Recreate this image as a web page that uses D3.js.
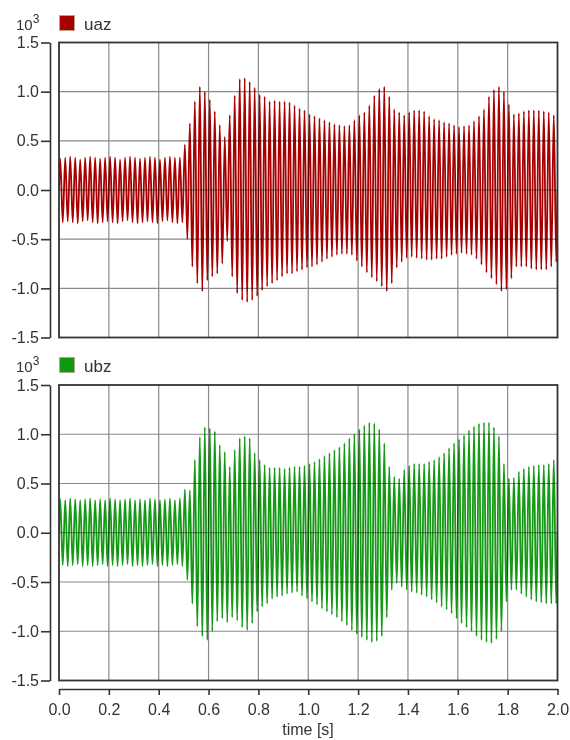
<!DOCTYPE html>
<html><head><meta charset="utf-8">
<script src="https://cdn.jsdelivr.net/npm/d3@7"></script>
<style>
body{margin:0;background:#fff}
text{font-family:"Liberation Sans",Arial,sans-serif}
</style></head>
<body><svg id="chart" width="570" height="740"></svg>
<script>
// ---- data (values in 10^3 units) ----
const timeTicks = [0.0,0.2,0.4,0.6,0.8,1.0,1.2,1.4,1.6,1.8,2.0];
const valueTicks = [-1.5,-1.0,-0.5,0.0,0.5,1.0,1.5];
const seriesNames = ["uaz","ubz"];
const cyclesPerSecond = 50;
// per-cycle positive and negative peaks
const uazMax = [0.32,0.33,0.34,0.33,0.31,0.33,0.34,0.33,0.32,0.33,0.34,0.33,0.31,0.33,0.34,0.33,0.32,0.33,0.34,0.33,0.31,0.33,0.34,0.33,0.33,
0.46,0.68,0.90,1.05,1.00,0.92,0.80,0.66,0.54,0.76,0.96,1.13,1.14,1.10,1.04,0.97,0.95,0.90,0.91,0.90,0.90,0.89,0.86,0.83,0.81,
0.77,0.75,0.73,0.71,0.69,0.67,0.66,0.65,0.66,0.71,0.76,0.79,0.86,0.96,1.03,1.05,0.95,0.82,0.79,0.76,0.79,0.81,0.81,0.80,0.75,
0.72,0.71,0.69,0.68,0.66,0.64,0.65,0.66,0.70,0.75,0.82,0.95,1.02,1.05,1.00,0.87,0.77,0.78,0.80,0.81,0.81,0.81,0.80,0.79,0.76];
const uazMin = [-0.33,-0.32,-0.33,-0.34,-0.32,-0.31,-0.33,-0.34,-0.33,-0.32,-0.33,-0.34,-0.32,-0.31,-0.33,-0.34,-0.33,-0.32,-0.33,-0.34,-0.32,-0.31,-0.33,-0.34,-0.33,
-0.50,-0.78,-0.95,-1.03,-0.92,-0.88,-0.85,-0.75,-0.52,-0.88,-1.05,-1.12,-1.14,-1.12,-1.08,-1.02,-0.98,-0.95,-0.92,-0.88,-0.85,-0.85,-0.83,-0.81,-0.79,
-0.78,-0.76,-0.73,-0.70,-0.68,-0.66,-0.65,-0.65,-0.66,-0.72,-0.78,-0.84,-0.89,-0.93,-0.98,-1.03,-0.95,-0.79,-0.73,-0.69,-0.68,-0.69,-0.70,-0.71,-0.71,
-0.70,-0.70,-0.68,-0.66,-0.65,-0.64,-0.65,-0.66,-0.70,-0.76,-0.84,-0.90,-0.96,-1.03,-1.01,-0.90,-0.78,-0.78,-0.78,-0.80,-0.81,-0.81,-0.81,-0.78,-0.73];
const ubzMax = [0.34,0.33,0.35,0.34,0.33,0.34,0.35,0.33,0.34,0.33,0.35,0.34,0.33,0.34,0.35,0.33,0.34,0.33,0.35,0.34,0.33,0.34,0.35,0.33,0.35,
0.44,0.43,0.74,0.97,1.07,1.06,1.03,0.89,0.82,0.67,0.84,0.96,0.98,0.96,0.81,0.74,0.69,0.66,0.66,0.66,0.65,0.66,0.67,0.67,0.68,
0.70,0.72,0.75,0.78,0.81,0.84,0.87,0.91,0.96,1.00,1.05,1.09,1.12,1.11,1.05,0.91,0.67,0.57,0.55,0.64,0.68,0.70,0.70,0.70,0.72,
0.74,0.77,0.81,0.86,0.91,0.95,0.99,1.04,1.08,1.11,1.12,1.12,1.07,0.98,0.70,0.55,0.56,0.62,0.65,0.67,0.68,0.69,0.69,0.70,0.74];
const ubzMin = [-0.33,-0.34,-0.33,-0.32,-0.34,-0.33,-0.34,-0.33,-0.32,-0.34,-0.33,-0.34,-0.33,-0.32,-0.34,-0.33,-0.34,-0.33,-0.32,-0.34,-0.33,-0.34,-0.33,-0.32,-0.34,
-0.48,-0.72,-0.95,-1.05,-1.09,-1.00,-0.90,-0.87,-0.91,-0.86,-0.89,-0.96,-0.99,-0.92,-0.80,-0.75,-0.72,-0.67,-0.65,-0.64,-0.62,-0.61,-0.60,-0.64,-0.67,
-0.70,-0.73,-0.77,-0.80,-0.83,-0.86,-0.90,-0.94,-0.99,-1.03,-1.06,-1.09,-1.11,-1.10,-1.05,-0.86,-0.58,-0.51,-0.55,-0.58,-0.60,-0.61,-0.63,-0.65,-0.68,
-0.71,-0.75,-0.78,-0.82,-0.87,-0.92,-0.96,-1.00,-1.05,-1.09,-1.11,-1.12,-1.08,-1.00,-0.70,-0.58,-0.58,-0.62,-0.65,-0.68,-0.70,-0.71,-0.72,-0.72,-0.72];

const colors = {uaz:"#a80000", ubz:"#159a15"};
const legendFill = {uaz:"#a80000", ubz:"#0d9a0d"};

function buildPoints(maxs, mins){
  const pts = [[0,0]];
  maxs.forEach((m,k)=>{
    pts.push([(k+0.25)/cyclesPerSecond, m]);
    pts.push([(k+0.75)/cyclesPerSecond, mins[k]]);
  });
  pts.push([2.0,0]);
  return pts;
}
const panels = [
  {name:"uaz", pts:buildPoints(uazMax,uazMin), top:42.5, bottom:337.5, legY:15},
  {name:"ubz", pts:buildPoints(ubzMax,ubzMin), top:385, bottom:680.5, legY:357}
];

const svg = d3.select("#chart");
const x = d3.scaleLinear().domain([0,2]).range([59,557.5]);
const fmt = d => d.toFixed(1);

panels.forEach((p,i)=>{
  const y = d3.scaleLinear().domain([-1.5,1.5]).range([p.bottom,p.top]);
  const g = svg.append("g");
  const clipId = "clip"+i;
  svg.append("clipPath").attr("id",clipId).append("rect")
    .attr("x",x(0)).attr("y",p.top).attr("width",x(2)-x(0)).attr("height",p.bottom-p.top);

  // signal
  const line = d3.line().x(d=>x(d[0])).y(d=>y(d[1])).curve(d3.curveMonotoneX);
  g.append("path").datum(p.pts).attr("clip-path",`url(#${clipId})`)
    .attr("d",line).attr("fill","none").attr("stroke",colors[p.name])
    .attr("stroke-width",1.8).attr("stroke-linejoin","round");

  // grid (multiply over signal)
  const grid = g.append("g").style("mix-blend-mode","multiply")
    .attr("stroke","#8a8a8a").attr("stroke-width",1.2);
  timeTicks.filter(t=>t>0&&t<2).forEach(t=>{
    grid.append("line").attr("x1",x(t)).attr("x2",x(t)).attr("y1",p.top).attr("y2",p.bottom);
  });
  valueTicks.filter(v=>Math.abs(v)<1.5).forEach(v=>{
    grid.append("line").attr("x1",x(0)).attr("x2",x(2)).attr("y1",y(v)).attr("y2",y(v));
  });

  // frame
  g.append("rect").attr("x",x(0)).attr("y",p.top).attr("width",x(2)-x(0)).attr("height",p.bottom-p.top)
    .attr("fill","none").attr("stroke","#333").attr("stroke-width",1.8);

  // y axis (offset)
  const ya = g.append("g").attr("transform","translate(50,0)")
    .call(d3.axisLeft(y).tickValues(valueTicks).tickFormat(fmt).tickSize(9).tickSizeOuter(0).tickPadding(2));
  ya.selectAll("path,line").attr("stroke","#333").attr("stroke-width",1.6);
  ya.selectAll("text").attr("font-size",16).attr("fill","#333")
    .attr("font-family","'Liberation Sans',Arial,sans-serif");

  // exponent label
  const ex = g.append("text").attr("x",16).attr("y",p.legY+15).attr("font-size",15).attr("fill","#333");
  ex.append("tspan").text("10");
  ex.append("tspan").attr("dy",-7).attr("font-size",12).text("3");

  // legend
  g.append("rect").attr("x",59.5).attr("y",p.legY+0.5).attr("width",15).attr("height",15)
    .attr("fill",legendFill[p.name]).attr("stroke","#b9a58f").attr("stroke-width",1);
  g.append("text").attr("x",84).attr("y",p.legY+15).attr("font-size",17).attr("fill","#333").text(p.name);
});

// x axis
const xa = svg.append("g").attr("transform","translate(0,689)")
  .call(d3.axisBottom(x).tickValues(timeTicks).tickFormat(fmt).tickSize(6).tickSizeOuter(0).tickPadding(9));
xa.selectAll("path,line").attr("stroke","#333").attr("stroke-width",1.6);
xa.selectAll("text").attr("font-size",16).attr("fill","#333")
  .attr("font-family","'Liberation Sans',Arial,sans-serif");
svg.append("text").attr("x",308).attr("y",735).attr("text-anchor","middle")
  .attr("font-size",16).attr("fill","#333").text("time [s]");
</script></body></html>
